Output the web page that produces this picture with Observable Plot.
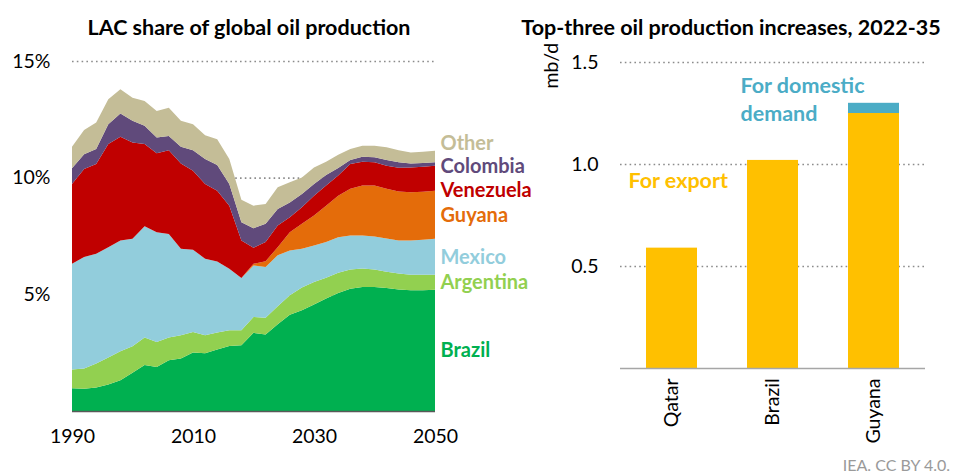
<!DOCTYPE html>
<html>
<head>
<meta charset="utf-8">
<script src="https://cdn.jsdelivr.net/npm/d3@7"></script>
<script src="https://cdn.jsdelivr.net/npm/@observablehq/plot@0.6"></script>
<style>
  body { margin: 0; background: #fff; font-family: Lato, "Noto Sans", sans-serif; }
  #root { position: relative; width: 959px; height: 475px; overflow: hidden; background: #fff; }
  .title { position: absolute; top: 16px; font-weight: bold; font-size: 21.5px; line-height: 22px; color: #000; white-space: nowrap; text-align: center; }
  .panel { position: absolute; top: 0; }
  #credit { position: absolute; right: 9px; top: 456px; font-size: 16px; line-height: 18px; color: #9a9a9a; white-space: nowrap; }
</style>
</head>
<body>
<div id="root">
  <div class="panel" id="left" style="left:0"></div>
  <div class="panel" id="right" style="left:480px"></div>
  <div class="title" style="left:0; width:498px;">LAC share of global oil production</div>
  <div class="title" style="left:480px; width:502px;">Top-three oil production increases, 2022-35</div>
  <div id="credit">IEA. CC BY 4.0.</div>
</div>
<script>
// ---- Left panel data: share of global oil production (%), layer thickness ----
const years = [1990,1992,1994,1996,1998,2000,2002,2004,2006,2008,2010,2012,2014,2016,2018,2020,2022,2024,2026,2028,2030,2032,2034,2036,2038,2040,2042,2044,2046,2048,2050];
const brazil    = [0.97,0.95,1.01,1.14,1.32,1.64,1.97,1.89,2.18,2.25,2.51,2.47,2.64,2.79,2.82,3.35,3.28,3.72,4.13,4.32,4.56,4.82,5.06,5.24,5.31,5.31,5.27,5.21,5.17,5.17,5.20];
const argentina = [0.81,0.87,1.03,1.15,1.24,1.14,1.18,1.07,0.97,1.00,0.88,0.78,0.72,0.67,0.64,0.68,0.72,0.77,0.83,0.97,0.97,0.89,0.86,0.82,0.80,0.75,0.70,0.68,0.67,0.67,0.64];
const mexico    = [4.53,4.78,4.70,4.73,4.75,4.60,4.77,4.70,4.44,3.70,3.52,3.28,3.05,2.64,2.24,2.21,2.17,2.18,1.92,1.66,1.56,1.53,1.53,1.46,1.41,1.42,1.42,1.42,1.47,1.50,1.54];
const guyana    = [0,0,0,0,0,0,0,0,0,0,0,0,0,0,0,0.07,0.25,0.35,0.78,1.07,1.29,1.56,1.78,2.00,2.14,2.18,2.13,2.10,2.06,2.06,2.06];
const venezuela = [3.42,3.77,3.85,4.42,4.44,4.13,3.52,3.39,3.59,3.66,3.39,3.20,3.03,2.70,1.61,0.69,0.82,0.93,0.64,0.71,0.85,0.86,0.86,1.07,1.02,1.00,0.99,1.02,1.07,1.07,1.07];
const colombia  = [0.67,0.63,0.64,0.85,1.00,0.93,0.78,0.67,0.61,0.71,0.88,1.07,1.10,0.93,0.78,0.83,0.78,0.71,0.64,0.57,0.50,0.45,0.32,0.17,0.22,0.21,0.25,0.23,0.17,0.16,0.15];
const other     = [0.92,1.04,1.13,1.07,1.04,0.99,1.07,1.14,1.21,1.12,1.11,1.02,1.11,1.07,0.96,0.97,0.85,0.93,0.86,0.71,0.71,0.57,0.57,0.47,0.47,0.50,0.54,0.52,0.47,0.48,0.49];
const seriesNames  = ["Brazil","Argentina","Mexico","Guyana","Venezuela","Colombia","Other"];
const seriesColors = ["#00B050","#92D050","#92CDDC","#E46C0A","#C00000","#604A7B","#C4BD97"];
const seriesValues = [brazil, argentina, mexico, guyana, venezuela, colombia, other];
const xTicks = [1990, 2010, 2030, 2050];
const yTicks = [5, 10, 15];

// ---- Right panel data: mb/d ----
const countries   = ["Qatar","Brazil","Guyana"];
const forExport   = [0.59, 1.02, 1.25];
const forDomestic = [0, 0, 0.05];
const useNames    = ["For export","For domestic demand"];
const useColors   = ["#FFC000","#4BACC6"];
const barTicks    = [0.5, 1.0, 1.5];

const FONT = "Lato, 'Noto Sans', sans-serif";

// build long table
const rows = seriesNames.flatMap((s, i) => years.map((y, j) => ({year: y, series: s, value: seriesValues[i][j]})));

// end labels: midpoint of each layer at final year, relaxed to avoid overlap
const last = years.length - 1;
let cum = 0;
const labels = seriesNames.map((s, i) => {
  const v = seriesValues[i][last];
  const mid = cum + v / 2;
  cum += v;
  return {name: s, y: mid};
});
const gap = 1.0;
for (let it = 0; it < 300; it++) {
  for (let k = 1; k < labels.length; k++) {
    const d = labels[k].y - labels[k - 1].y;
    if (d < gap) { const m = (gap - d) / 2; labels[k].y += m; labels[k - 1].y -= m; }
  }
}

const left = Plot.plot({
  width: 500, height: 475,
  marginLeft: 72, marginRight: 65, marginTop: 61, marginBottom: 64,
  style: {fontFamily: FONT, fontSize: "19.5px", color: "#000", background: "transparent", overflow: "visible"},
  x: {domain: [1990, 2050], label: null},
  y: {domain: [0, 15], label: null},
  color: {domain: seriesNames, range: seriesColors},
  marks: [
    Plot.gridY(yTicks, {stroke: "#8c8c8c", strokeOpacity: 1, strokeWidth: 1.6, strokeDasharray: "1.6,3.2"}),
    Plot.areaY(rows, {x: "year", y: "value", z: "series", fill: "series", order: seriesNames}),
    Plot.ruleY([0], {stroke: "#595959", strokeWidth: 1.5}),
    Plot.axisX({ticks: xTicks, tickFormat: d => String(d), tickSize: 0, tickPadding: 18, fontSize: 19.5, label: null}),
    Plot.axisY({ticks: yTicks, tickFormat: d => d + "%", tickSize: 0, tickPadding: 22, fontSize: 19.5, label: null}),
    Plot.text(labels, {x: () => 2050, y: "y", text: "name", fill: "name", dx: 5, textAnchor: "start", fontWeight: "bold", fontSize: 20, fontFamily: FONT})
  ]
});
document.getElementById("left").appendChild(left);

const barRows = countries.flatMap((c, i) => [
  {country: c, use: useNames[0], value: forExport[i]},
  {country: c, use: useNames[1], value: forDomestic[i]}
]);

const right = Plot.plot({
  width: 479, height: 475,
  marginLeft: 140, marginRight: 34, marginTop: 62, marginBottom: 107,
  style: {fontFamily: FONT, fontSize: "19.5px", color: "#000", background: "transparent", overflow: "visible"},
  x: {domain: countries, paddingInner: 0.5, paddingOuter: 0.25, label: null},
  y: {domain: [0, 1.5], label: null},
  color: {domain: useNames, range: useColors},
  marks: [
    Plot.gridY(barTicks, {stroke: "#8c8c8c", strokeOpacity: 1, strokeWidth: 1.6, strokeDasharray: "1.6,3.2"}),
    Plot.barY(barRows, {x: "country", y: "value", fill: "use"}),
    Plot.ruleY([0], {stroke: "#a6a6a6", strokeWidth: 1.5}),
    Plot.axisY({ticks: barTicks, tickFormat: d3.format(".1f"), tickSize: 0, tickPadding: 22, fontSize: 19.5, label: null}),
    Plot.axisX({tickRotate: -90, tickSize: 0, tickPadding: 10, fontSize: 19.5, label: null}),
    Plot.text(["mb/d"], {frameAnchor: "top-left", dx: -76, dy: 26, rotate: -90, fontSize: 19.5, fontFamily: FONT, fill: "#000"}),
    Plot.text([useNames[0]], {frameAnchor: "top-left", dx: 8, dy: 110, textAnchor: "start", fontWeight: "bold", fontSize: 21.5, fill: useColors[0], fontFamily: FONT}),
    Plot.text(["For domestic\ndemand"], {frameAnchor: "top-left", dx: 120, dy: 10, textAnchor: "start", fontWeight: "bold", fontSize: 21.5, lineHeight: 1.32, fill: useColors[1], fontFamily: FONT})
  ]
});
document.getElementById("right").appendChild(right);
</script>
</body>
</html>
